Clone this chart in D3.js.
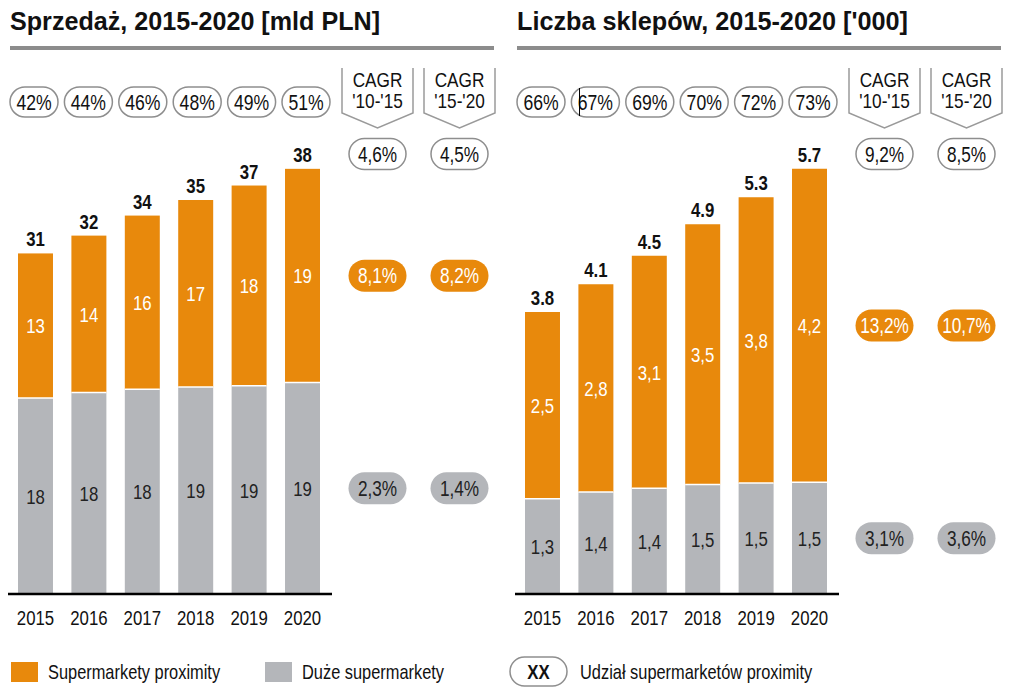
<!DOCTYPE html>
<html>
<head>
<meta charset="utf-8">
<script src="https://cdn.jsdelivr.net/npm/d3@7"></script>
<style>
  html, body { margin: 0; padding: 0; background: #fff; }
  svg text { font-family: "Liberation Sans", Arial, sans-serif; }
</style>
</head>
<body>
<svg id="chart" width="1010" height="692"></svg>
<script>
// ---------- DATA ----------
const years = ["2015", "2016", "2017", "2018", "2019", "2020"];

// Panel 1: sales [bn PLN]
const salesTitle = "Sprzedaż, 2015-2020 [mld PLN]";
const salesProximity = [13.0, 14.1, 15.6, 16.8, 18.0, 19.2];
const salesLarge = [17.6, 18.1, 18.4, 18.6, 18.7, 19.0];
const salesShare = ["42%", "44%", "46%", "48%", "49%", "51%"];
const salesCagrTotal = ["4,6%", "4,5%"];
const salesCagrProximity = ["8,1%", "8,2%"];
const salesCagrLarge = ["2,3%", "1,4%"];

// Panel 2: number of stores ['000]
const storesTitle = "Liczba sklepów, 2015-2020 ['000]";
const storesProximity = [2.49, 2.77, 3.10, 3.47, 3.81, 4.18];
const storesLarge = [1.27, 1.36, 1.41, 1.46, 1.48, 1.49];
const storesShare = ["66%", "67%", "69%", "70%", "72%", "73%"];
const storesCagrTotal = ["9,2%", "8,5%"];
const storesCagrProximity = ["13,2%", "10,7%"];
const storesCagrLarge = ["3,1%", "3,6%"];

const cagrHeaders = [["CAGR", "'10-'15"], ["CAGR", "'15-'20"]];
const legendLabels = ["Supermarkety proximity", "Duże supermarkety", "Udział supermarketów proximity"];

// ---------- STYLE ----------
const ORANGE = "#E8890C";
const GRAY = "#B4B6BA";
const LINE = "#8E8E8E";
const TEXT = "#111";
const SX = 0.8; // narrow face emulation

const svg = d3.select("#chart");

function txt(g, X, Y, s, o) {
  o = Object.assign({size: 20, weight: "normal", fill: TEXT, anchor: "middle", sx: SX, dy: null}, o || {});
  const t = g.append("text")
    .attr("transform", `translate(${X},${Y}) scale(${o.sx},1)`)
    .attr("text-anchor", o.anchor)
    .attr("font-size", o.size).attr("font-weight", o.weight)
    .attr("fill", o.fill)
    .text(s);
  if (o.dy) t.attr("dy", o.dy);
  return t;
}

function pill(g, cx, cy, w, h, label, opts) {
  const o = Object.assign({fill: "#fff", stroke: LINE, color: TEXT, size: 20, weight: "normal"}, opts || {});
  g.append("rect")
    .attr("x", cx - w / 2).attr("y", cy - h / 2)
    .attr("width", w).attr("height", h)
    .attr("rx", h / 2).attr("ry", h / 2)
    .attr("fill", o.fill)
    .attr("stroke", o.stroke)
    .attr("stroke-width", o.stroke === "none" ? 0 : 1.5);
  txt(g, cx, cy, label, {size: o.size, weight: o.weight, fill: o.color, dy: "0.36em"});
}

function panel(x0, cfg) {
  const g = svg.append("g").attr("transform", `translate(${x0},0)`);
  const baseY = 594;

  // title + rule
  g.append("text").attr("x", 2).attr("y", 30)
    .attr("font-size", 26).attr("font-weight", "bold").attr("fill", TEXT)
    .attr("textLength", cfg.titleWidth).attr("lengthAdjust", "spacingAndGlyphs")
    .text(cfg.title);
  g.append("rect").attr("x", 2).attr("y", 46).attr("width", 484).attr("height", 4).attr("fill", "#8C8C8C");

  const x = d3.scaleBand().domain(years).range([10, 312]).paddingInner(0.345).paddingOuter(0);
  const y = d3.scaleLinear().domain([0, cfg.yMax]).range([baseY, baseY - cfg.yMax * cfg.pxPerUnit]);
  const xs = d3.scalePoint().domain(years).range([26, 298]);
  const cx = d => x(d.yr) + x.bandwidth() / 2;

  const rows = years.map((yr, i) => ({
    yr, prox: cfg.prox[i], large: cfg.large[i], total: cfg.prox[i] + cfg.large[i], share: cfg.share[i]
  }));

  // share pills
  rows.forEach(d => pill(g, xs(d.yr), 102, 48, 30, d.share, {size: 22}));

  // gray (large) segment
  g.selectAll(".large").data(rows).enter().append("rect")
    .attr("x", d => x(d.yr)).attr("width", x.bandwidth())
    .attr("y", d => y(d.large)).attr("height", d => y(0) - y(d.large))
    .attr("fill", GRAY);
  // orange (proximity) segment
  g.selectAll(".prox").data(rows).enter().append("rect")
    .attr("x", d => x(d.yr)).attr("width", x.bandwidth())
    .attr("y", d => y(d.total)).attr("height", d => y(d.large) - y(d.total))
    .attr("fill", ORANGE);
  // white separators
  g.selectAll(".sep").data(rows).enter().append("line")
    .attr("x1", d => x(d.yr)).attr("x2", d => x(d.yr) + x.bandwidth())
    .attr("y1", d => y(d.large)).attr("y2", d => y(d.large))
    .attr("stroke", "#fff").attr("stroke-width", 1.5);

  // segment labels
  rows.forEach(d => {
    txt(g, cx(d), (y(d.total) + y(d.large)) / 2, cfg.segFmt(d.prox), {size: 21, fill: "#fff", dy: "0.36em"});
    txt(g, cx(d), (y(d.large) + y(0)) / 2, cfg.segFmt(d.large), {size: 21, fill: "#222", dy: "0.36em"});
    txt(g, cx(d), y(d.total) - 7, cfg.totFmt(d.total), {size: 21, weight: "bold"});
  });

  // baseline axis + year labels
  const axis = d3.axisBottom(x).tickSize(0).tickPadding(16);
  const ag = g.append("g").attr("transform", `translate(0,${baseY})`).call(axis);
  ag.select(".domain").remove();
  ag.selectAll("text").attr("font-size", 21).attr("fill", TEXT)
    .attr("transform", `scale(${SX},1)`)
    .style("font-family", '"Liberation Sans", Arial, sans-serif');
  g.append("line").attr("x1", 0).attr("x2", 324).attr("y1", baseY).attr("y2", baseY)
    .attr("stroke", "#000").attr("stroke-width", 2.5);

  // CAGR columns
  const last = rows[rows.length - 1];
  const proxMid = (y(last.total) + y(last.large)) / 2;
  const largeMid = (y(last.large) + y(0)) / 2;
  const cagrX = [369.5, 451.5];
  cagrX.forEach((c, j) => {
    g.append("path")
      .attr("d", `M${c - 35.5},68 L${c - 35.5},113 L${c},128 L${c + 35.5},113 L${c + 35.5},68`)
      .attr("fill", "none").attr("stroke", "#9A9A9A").attr("stroke-width", 1.5);
    txt(g, c, 87, cagrHeaders[j][0], {size: 21, sx: 0.82});
    txt(g, c, 108, cagrHeaders[j][1], {size: 21, sx: 0.82});
    pill(g, c, 154, 57, 31, cfg.cagrTotal[j], {size: 21.5});
    pill(g, c, proxMid, 58, 32, cfg.cagrProx[j], {fill: ORANGE, stroke: "none", color: "#fff", size: 21.5});
    pill(g, c, largeMid, 58, 32, cfg.cagrLarge[j], {fill: GRAY, stroke: "none", color: "#222", size: 21.5});
  });
  return g;
}

panel(8, {
  title: salesTitle, titleWidth: 370, prox: salesProximity, large: salesLarge, share: salesShare,
  yMax: 40, pxPerUnit: 11.13,
  segFmt: v => d3.format(".0f")(v), totFmt: v => d3.format(".0f")(v),
  cagrTotal: salesCagrTotal, cagrProx: salesCagrProximity, cagrLarge: salesCagrLarge
});
panel(515, {
  title: storesTitle, titleWidth: 391, prox: storesProximity, large: storesLarge, share: storesShare,
  yMax: 6, pxPerUnit: 75,
  segFmt: v => d3.format(".1f")(v).replace(".", ","), totFmt: v => d3.format(".1f")(v),
  cagrTotal: storesCagrTotal, cagrProx: storesCagrProximity, cagrLarge: storesCagrLarge
});

// cursor artifact present in the reference
svg.append("line").attr("x1", 579.5).attr("x2", 579.5).attr("y1", 88).attr("y2", 116)
  .attr("stroke", "#000").attr("stroke-width", 1);

// ---------- LEGEND ----------
const lg = svg.append("g");
lg.append("rect").attr("x", 11).attr("y", 662).attr("width", 27).attr("height", 20).attr("fill", ORANGE);
txt(lg, 48, 679, legendLabels[0], {size: 20.5, anchor: "start"});
lg.append("rect").attr("x", 265).attr("y", 662).attr("width", 27).attr("height", 20).attr("fill", GRAY);
txt(lg, 302, 679, legendLabels[1], {size: 20.5, anchor: "start"});
pill(lg, 538.5, 671.5, 57, 29, "XX", {size: 21, weight: "bold"});
txt(lg, 580, 679, legendLabels[2], {size: 20.5, anchor: "start"});
</script>
</body>
</html>
